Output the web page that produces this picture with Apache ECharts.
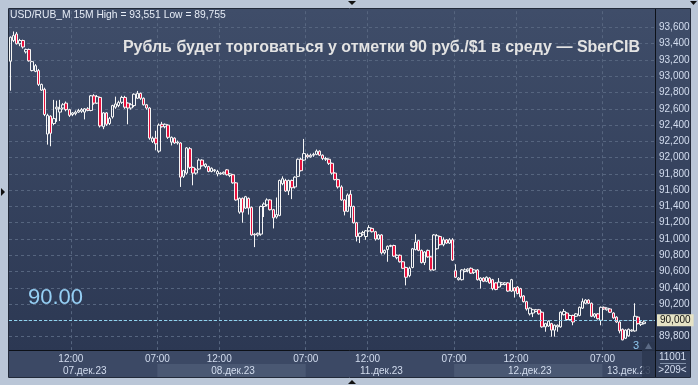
<!DOCTYPE html>
<html><head><meta charset="utf-8">
<script src="https://cdn.jsdelivr.net/npm/echarts@6/dist/echarts.min.js"></script>
<style>html,body{margin:0;padding:0;background:#bac6d7;}#c{width:698px;height:385px;}</style>
</head><body><div id="c"></div>
<script>
// ---------- DATA ----------
const sessionDays = ['07.дек.23','08.дек.23','11.дек.23','12.дек.23','13.дек.23'];
const barsPerDay = [48, 48, 48, 48, 17];
const sessionStart = '07:00';
const barMinutes = 15;
const gridTimes = ['07:00', '12:00'];
const dateLabelTimes = ['13:00', '13:00', '13:00', '13:00', '09:00'];
const yMin = 89600, yMax = 93800, yStep = 200;
const lastPrice = 90000;
const lastPriceTag = '90,000';
const bigPriceText = '90.00';
const headerText = 'USD/RUB_M 15M High = 93,551 Low = 89,755';
const titleText = 'Рубль будет торговаться у отметки 90 руб./$1 в среду — SberCIB';
const barsCountText = '11001';
const visibleBarsText = '>209<';

const opens = [
93185,93440,93520,93400,93440,93300,93330,93070,93060,93070,92830,92840,92290,92510,92420,92600,92560,92610,92670,92590,
92530,92540,92560,92570,92560,92600,92580,92760,92670,92740,92380,92550,92420,92500,92620,92640,92680,92740,92670,92610,
92640,92730,92790,92730,92650,92610,92200,92240,
92080,92410,92380,92400,92190,92240,92180,92180,91770,91810,92110,91880,91810,91860,91970,91890,91890,91830,91840,91800,
91800,91800,91850,91780,91790,91690,91330,91500,91380,91500,91390,91060,91050,91060,91400,91420,91480,91360,91270,91290,
91680,91720,91590,91720,91640,91770,91980,91970,
92030,92010,92030,92040,92080,92030,91980,91980,91930,91810,91730,91640,91480,91340,91550,91400,91200,91030,91060,91030,
91100,91130,91090,91000,91050,90830,90870,90910,90920,90770,90800,90720,90650,90550,90650,90870,90980,90860,90710,90860,
90780,90620,90880,91030,90930,90990,90950,90990,
90610,90500,90500,90600,90610,90640,90590,90620,90490,90520,90480,90520,90500,90460,90410,90440,90440,90460,90360,90400,
90410,90390,90300,90230,90080,90090,90110,90130,90100,89920,89930,89960,89880,89920,89920,90070,90090,90010,90060,90050,
90060,90150,90210,90250,90210,90050,90080,90000,
90160,90130,90140,90090,90040,89980,89890,89780,89810,89870,89870,90040,89950,89960
];
const closes = [
93480,93500,93400,93440,93360,93330,93190,93180,93130,92900,92900,92530,92520,92300,92480,92620,92600,92650,92590,92520,
92550,92560,92580,92590,92600,92580,92760,92670,92750,92390,92550,92410,92480,92640,92660,92680,92740,92620,92610,92650,
92780,92790,92730,92650,92610,92240,92240,92170,
92400,92380,92410,92250,92250,92180,92190,91760,91840,92120,91880,91810,91850,91970,91900,91920,91830,91870,91850,91830,
91810,91820,91790,91800,91690,91480,91500,91330,91520,91380,91050,91050,91070,91400,91430,91480,91360,91260,91300,91720,
91740,91590,91720,91630,91760,91980,91840,92050,
92010,92030,92040,92080,92030,91990,91990,91930,91810,91730,91640,91480,91340,91540,91400,91200,91030,91070,91080,91100,
91140,91090,91000,91050,90830,90860,90910,90920,90790,90800,90720,90640,90530,90640,90880,90960,90860,90710,90840,90780,
90620,91050,91040,90930,90990,90950,90990,90740,
90530,90520,90620,90620,90630,90580,90620,90500,90520,90480,90530,90460,90390,90380,90470,90460,90460,90360,90500,90360,
90330,90290,90230,90140,90150,90130,90130,90080,89920,89960,89990,89880,89940,89940,90100,90110,90010,90060,89980,90080,
90160,90230,90250,90210,90050,90080,90020,90160,
90140,90150,90100,90030,89980,89870,89760,89880,89890,89880,90050,89960,89970,89980
];
const lows = [
92823,93420,93390,93370,93340,93280,93180,93060,93050,92880,92820,92510,92160,92140,92400,92440,92450,92590,92570,92500,
92510,92520,92550,92550,92470,92570,92570,92650,92660,92370,92350,92390,92400,92480,92600,92620,92660,92600,92410,92590,
92620,92720,92710,92640,92590,92220,92180,92090,
92060,92370,92360,92230,92150,92170,92160,91640,91750,91790,91860,91660,91790,91850,91890,91870,91820,91820,91820,91770,
91790,91790,91780,91760,91680,91470,91310,91200,91370,91300,91040,90900,91030,91040,91270,91400,91350,91130,91250,91280,
91660,91580,91540,91490,91620,91760,91830,91960,
91990,92000,92010,92030,92020,91970,91960,91910,91790,91720,91620,91470,91290,91330,91260,91190,90970,90950,91040,90990,
91090,91080,90980,90990,90810,90810,90720,90900,90780,90750,90710,90630,90430,90530,90640,90860,90850,90700,90680,90770,
90610,90610,90870,90920,90910,90940,90940,90730,
90520,90490,90490,90590,90590,90570,90570,90490,90390,90470,90470,90450,90370,90370,90400,90430,90430,90350,90350,90280,
90320,90270,90220,90120,90060,90040,90100,90070,89910,89860,89920,89800,89800,89860,89910,90060,90000,90000,89940,90040,
90050,90140,90200,90200,90040,90030,90010,89940,
90130,90120,90090,90020,89970,89840,89755,89770,89800,89860,89860,89950,89930,89950
];
const highs = [
93490,93551,93545,93460,93450,93340,93340,93190,93150,93090,92910,92860,92540,92520,92710,92700,92710,92670,92690,92600,
92560,92580,92600,92610,92610,92620,92770,92780,92770,92750,92560,92560,92500,92650,92750,92700,92760,92760,92680,92670,
92790,92820,92800,92740,92660,92620,92260,92330,
92420,92440,92420,92410,92260,92250,92210,92190,91850,92130,92130,91890,91870,91990,91980,91930,91900,91880,91860,91850,
91820,91830,91860,91810,91800,91700,91510,91510,91530,91510,91400,91070,91080,91410,91450,91500,91490,91370,91510,91730,
91770,91740,91730,91730,91770,91990,92000,92230,
92050,92050,92060,92100,92090,92040,92010,91990,91940,91820,91740,91660,91490,91560,91600,91410,91210,91080,91100,91110,
91170,91140,91100,91060,91060,90870,90920,90930,90930,90810,90810,90730,90660,90660,90890,91060,90990,90870,90850,90870,
90790,91060,91060,91040,91020,91000,91010,91010,
90690,90530,90630,90640,90640,90650,90630,90630,90530,90530,90540,90530,90510,90470,90520,90470,90470,90470,90510,90410,
90420,90400,90310,90240,90160,90140,90140,90140,90110,89970,90000,89970,89950,89950,90110,90140,90100,90070,90070,90090,
90170,90270,90260,90260,90220,90090,90090,90170,
90170,90160,90150,90100,90050,89990,89900,89890,89900,89890,90210,90050,89990,90000
];

// ---------- BUILD ----------
const FONT = 'Liberation Sans, Arial, sans-serif';
const labelColor = '#d3ddef';
const pad2 = n => String(n).padStart(2, '0');
const startMin = parseInt(sessionStart) * 60 + parseInt(sessionStart.slice(3));
const categories = [];
const dayOfCat = [];
sessionDays.forEach((d, k) => {
  for (let j = 0; j < barsPerDay[k]; j++) {
    const m = startMin + j * barMinutes;
    categories.push(d + ' ' + pad2(Math.floor(m / 60)) + ':' + pad2(m % 60));
    dayOfCat.push(k);
  }
});
const timeOf = v => v.slice(-5);
const dateOf = v => v.split(' ')[0];
const isGridTick = (i, v) => i > 0 && gridTimes.includes(timeOf(v));
const isDateTick = (i, v) => timeOf(v) === dateLabelTimes[sessionDays.indexOf(dateOf(v))];
const data = opens.map((o, i) => [o, closes[i], lows[i], highs[i]]);
const fmtNum = v => String(v).replace(/\B(?=(\d{3})+(?!\d))/g, ',');

const chart = echarts.init(document.getElementById('c'), null, {width: 698, height: 385});
const baseAxis = {type: 'category', data: categories, boundaryGap: true, position: 'bottom',
  axisLine: {show: false}, axisTick: {show: false}, splitLine: {show: false}};
chart.setOption({
  backgroundColor: '#bac6d7',
  animation: false,
  grid: {left: 9, top: 11.2, width: 646, height: 341.7, show: false},
  xAxis: [
    Object.assign({}, baseAxis, {axisLabel: {show: false},
      splitLine: {show: true, interval: isGridTick, lineStyle: {color: '#56657f', type: [3, 3], width: 1}}, z: 0}),
    Object.assign({}, baseAxis, {z: 10, axisLabel: {show: true, interval: isGridTick, formatter: v => timeOf(v),
      color: labelColor, fontSize: 10, fontFamily: FONT, margin: 1, padding: [0, 3, 0, 0]}}),
    Object.assign({}, baseAxis, {z: 10, axisLabel: {show: true, interval: isDateTick, formatter: v => dateOf(v),
      color: labelColor, fontSize: 10, fontFamily: FONT, margin: 13}})
  ],
  yAxis: {type: 'value', position: 'right', min: yMin, max: yMax, interval: yStep,
    axisLine: {show: false}, axisTick: {show: false},
    splitLine: {show: true, showMinLine: false, showMaxLine: false, lineStyle: {color: '#56657f', type: [3, 3], width: 1}},
    axisLabel: {color: labelColor, fontSize: 10, fontFamily: FONT, margin: 4, showMinLabel: false, showMaxLabel: false, formatter: fmtNum}},
  series: [{
    type: 'candlestick', data: data, xAxisIndex: 0, yAxisIndex: 0, barWidth: 3,
    itemStyle: {color: 'rgba(0,0,0,0)', color0: '#e8113d', borderColor: '#f6f6f6', borderColor0: '#f6f6f6', borderWidth: 1},
    markLine: {silent: true, symbol: ['none', 'none'], animation: false,
      data: [{yAxis: lastPrice}],
      lineStyle: {color: '#8fd3ee', type: [3, 2], width: 1},
      label: {show: true, position: 'end', distance: 2, formatter: lastPriceTag, backgroundColor: '#e6e3c5',
        color: '#111', fontSize: 10, fontFamily: FONT, padding: [1, 3, 1, 3]}}
  }]
});

// ---------- DECORATION (computed from axes) ----------
const cx = i => chart.convertToPixel({xAxisIndex: 0}, categories[i]);
const bw = cx(1) - cx(0);
const edge = i => (i >= categories.length ? cx(categories.length - 1) + bw / 2 : cx(i) - bw / 2);
const plotL = edge(0), plotR = edge(categories.length);
const plotT = 9, plotB = 350;
const dayStarts = [];
dayOfCat.forEach((k, i) => { if (i === 0 || dayOfCat[i - 1] !== k) dayStarts.push(i); });
const bands = [];
dayStarts.forEach((s, k) => {
  if (k % 2 === 1) {
    const e = k + 1 < dayStarts.length ? dayStarts[k + 1] : categories.length;
    bands.push({type: 'rect', z: 1, shape: {x: edge(s), y: 364, width: edge(e) - edge(s), height: 13}, style: {fill: '#4a5873'}});
  }
});
const grad = {type: 'linear', x: 0, y: 0, x2: 0, y2: 1, colorStops: [{offset: 0, color: '#3f4d69'}, {offset: 1, color: '#2c3853'}]};
const tri = (pts, fill) => ({type: 'polygon', z: 20, shape: {points: pts}, style: {fill: fill || '#111'}});
chart.setOption({graphic: [
  {type: 'rect', z: -10, shape: {x: plotL, y: plotT, width: plotR - plotL, height: plotB - plotT}, style: {fill: grad}},
  {type: 'rect', z: -10, shape: {x: plotR, y: plotT, width: 690 - plotR, height: plotB - plotT}, style: {fill: grad}},
  {type: 'rect', z: 1, shape: {x: plotL, y: plotB, width: plotR - plotL, height: 377 - plotB}, style: {fill: '#3c4965'}},
  ...bands,
  {type: 'rect', z: 1, shape: {x: plotR, y: plotB, width: 690 - plotR, height: 377 - plotB}, style: {fill: '#34415c'}},
  {type: 'line', z: 3, shape: {x1: plotL, y1: plotB + 0.5, x2: 690, y2: plotB + 0.5}, style: {stroke: '#0d1118', lineWidth: 1}},
  {type: 'line', z: 3, shape: {x1: plotR + 0.5, y1: plotT, x2: plotR + 0.5, y2: 377}, style: {stroke: '#0d1118', lineWidth: 1}},
  {type: 'rect', z: 3, shape: {x: 8.5, y: 8.5, width: 682, height: 369}, style: {fill: 'none', stroke: '#222a3a', lineWidth: 1}},
  {type: 'text', z: 12, style: {x: (plotR + 690) / 2, y: 357.5, text: barsCountText, fill: labelColor, font: '10px ' + FONT, textAlign: 'center', textVerticalAlign: 'middle'}},
  {type: 'line', z: 12, shape: {x1: plotR + 5, y1: 363.5, x2: 686, y2: 363.5}, style: {stroke: '#8090a8', lineWidth: 1}},
  {type: 'text', z: 12, style: {x: (plotR + 690) / 2, y: 370.5, text: visibleBarsText, fill: labelColor, font: '10px ' + FONT, textAlign: 'center', textVerticalAlign: 'middle'}},
  {type: 'rect', z: 11, shape: {x: plotR - 13, y: 342, width: 13, height: 35}, style: {fill: 'rgba(44,55,80,0.85)'}},
  tri([[plotR - 10, 349], [plotR - 3, 349], [plotR - 6.5, 343]], '#5b6a85'),
  {type: 'text', z: 12, style: {x: plotR - 19, y: 346, text: '3', fill: '#8ec6ee', font: '11px ' + FONT, textAlign: 'center', textVerticalAlign: 'middle'}},
  {type: 'text', z: 12, style: {x: 10, y: 15, text: headerText, fill: '#e6ecf6', font: '10.3px ' + FONT, textVerticalAlign: 'middle'}},
  {type: 'text', z: 12, style: {x: 640, y: 48, text: titleText, fill: '#e3e3e3', font: 'bold 16px ' + FONT, textAlign: 'right', textVerticalAlign: 'middle'}},
  {type: 'text', z: 12, style: {x: 28, y: 298, text: bigPriceText, fill: '#95cff4', font: '22px ' + FONT, textVerticalAlign: 'middle'}},
  tri([[348, 1], [356, 1], [352, 5]]),
  tri([[348, 384], [356, 384], [352, 380]]),
  tri([[1, 188], [1, 196], [5, 192]]),
  tri([[690, 1], [697, 1], [693.5, 5]])
]});
</script>
</body></html>
